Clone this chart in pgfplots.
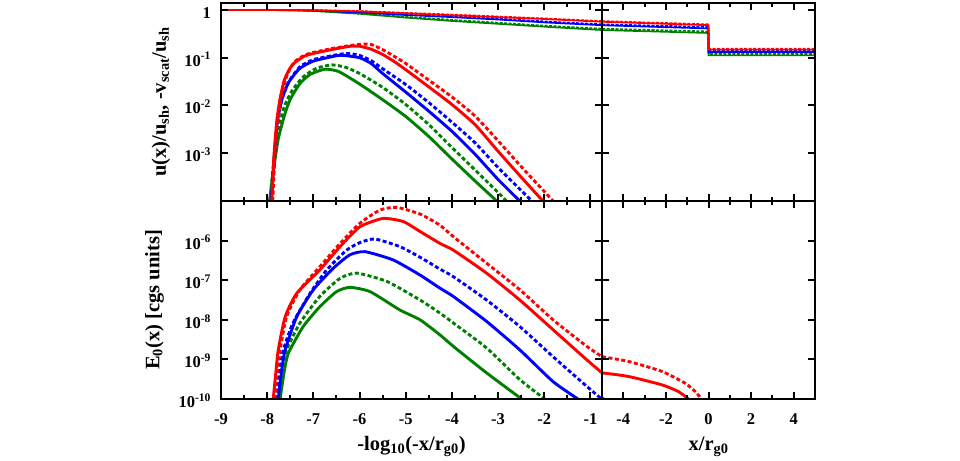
\documentclass[border=0pt]{standalone}
\usepackage{fontspec}
\setmainfont{Liberation Serif}
\usepackage{pgfplots}
\pgfplotsset{compat=1.18}
\definecolor{cr}{RGB}{255,0,0}
\definecolor{cb}{RGB}{0,0,255}
\definecolor{cg}{RGB}{0,128,0}
\newcommand{\lblfont}{\fontsize{20.5}{24}\selectfont\bfseries}
\pgfplotsset{
 every axis/.append style={
  scale only axis, anchor=south west, axis on top=true,
  axis line style={line width=2.4pt},
  every tick/.style={black, line width=2pt},
  major tick length=7pt, minor tick length=4pt,
  tick align=inside, xtick pos=both, ytick pos=both,
  yminorticks=false,
  ticklabel style={font=\fontsize{16.5}{18}\selectfont\bfseries},
  xticklabel style={anchor=base, yshift=-25pt},
  yticklabel style={anchor=base east, xshift=-6.5pt, yshift=-8.5pt},
  every axis x label/.style={at={(axis description cs:0.5,0)}, anchor=base, yshift=-51pt, font=\lblfont},
 },
}
\tikzset{
 uS/.style={line width=1.7pt},
 uD/.style={line width=1.7pt, dash pattern=on 3pt off 1.5pt},
 vS/.style={line width=2.9pt, smooth, tension=0.35},
 vD/.style={line width=2.9pt, dash pattern=on 4pt off 2.5pt, smooth, tension=0.35},
}
\begin{document}
\begin{tikzpicture}
\path[use as bounding box] (0,0) rectangle (960pt,460pt);
% ---------------- top left
\begin{axis}[at={(221pt,259pt)}, width=381pt, height=198pt,
  xmin=-9, xmax=-0.75, xtick={-9,-8,-7,-6,-5,-4,-3,-2,-1},
  minor xtick={-8.5,-7.5,-6.5,-5.5,-4.5,-3.5,-2.5,-1.5}, xticklabels={},
  ymode=log, ymin=1e-4, ymax=1.4, ytick={0.001,0.01,0.1,1},
  yticklabels={10\textsuperscript{-3},10\textsuperscript{-2},10\textsuperscript{-1},1},
  ylabel={u(x)/u\textsubscript{sh}, -v\textsubscript{scat}/u\textsubscript{sh}},
  every axis y label/.style={at={(axis description cs:-0.145,0.5)}, rotate=90, anchor=base, font=\lblfont}]
\addplot[cg, uS] coordinates {(-9,1.0)(-8,0.995)(-7.5,0.989)(-7,0.955)(-6,0.832)(-5,0.692)(-4,0.589)(-3,0.513)(-2,0.447)(-0.75,0.380)};
\addplot[cg, uD] coordinates {(-9,1.0)(-8,0.997)(-7.5,0.99)(-7,0.96)(-6,0.85)(-5,0.72)(-4,0.62)(-3,0.54)(-2,0.47)(-0.75,0.405)};
\addplot[cb, uS] coordinates {(-9,1.0)(-8,0.995)(-7,0.977)(-6,0.891)(-5,0.785)(-4,0.708)(-3,0.631)(-2,0.55)(-0.75,0.479)};
\addplot[cb, uD] coordinates {(-9,1.0)(-8,0.997)(-7,0.985)(-6,0.91)(-5,0.81)(-4,0.735)(-3,0.66)(-2,0.575)(-0.75,0.50)};
\addplot[cr, uS] coordinates {(-9,1.0)(-8,0.997)(-7,0.99)(-6,0.933)(-5,0.851)(-4,0.776)(-3,0.708)(-2,0.646)(-0.75,0.566)};
\addplot[cr, uD] coordinates {(-9,1.0)(-8,0.998)(-7,0.995)(-6,0.95)(-5,0.87)(-4,0.80)(-3,0.73)(-2,0.665)(-0.75,0.585)};
\addplot[cg, vS] coordinates {(-7.95,1e-4)(-7.87,4.0e-4)(-7.76,2.0e-3)(-7.62,6.5e-3)(-7.50,0.0135)(-7.29,0.0288)(-7.07,0.0448)(-6.75,0.0575)(-6.45,0.0513)(-6.00,0.0282)(-5.50,0.0132)(-5.00,5.89e-3)(-4.50,2.24e-3)(-4.00,7.59e-4)(-3.50,2.63e-4)(-3.03,1e-4)};
\addplot[cg, vD] coordinates {(-7.94,1e-4)(-7.86,6.5e-4)(-7.76,3.2e-3)(-7.62,0.0100)(-7.46,0.0205)(-7.22,0.0398)(-6.93,0.0603)(-6.60,0.0708)(-6.30,0.0631)(-6.00,0.0468)(-5.50,0.0240)(-5.00,0.0105)(-4.50,3.98e-3)(-4.00,1.32e-3)(-3.50,4.47e-4)(-3.00,1.51e-4)(-2.82,1e-4)};
\addplot[cb, vS] coordinates {(-7.91,1e-4)(-7.85,8.0e-4)(-7.78,4.5e-3)(-7.68,0.0135)(-7.54,0.0300)(-7.30,0.0590)(-7.00,0.0851)(-6.50,0.110)(-6.35,0.112)(-6.00,0.100)(-5.75,0.0759)(-5.50,0.0468)(-5.00,0.0191)(-4.50,7.59e-3)(-4.00,2.88e-3)(-3.50,9.55e-4)(-3.00,2.82e-4)(-2.53,1e-4)};
\addplot[cb, vD] coordinates {(-7.90,1e-4)(-7.84,9.0e-4)(-7.77,5.0e-3)(-7.67,0.0145)(-7.52,0.0330)(-7.29,0.0646)(-7.00,0.0912)(-6.50,0.115)(-6.25,0.123)(-6.00,0.112)(-5.75,0.0871)(-5.50,0.0589)(-5.00,0.0275)(-4.50,0.0115)(-4.00,4.47e-3)(-3.50,1.66e-3)(-3.00,5.01e-4)(-2.50,1.66e-4)(-2.27,1e-4)};
\addplot[cr, vS] coordinates {(-7.90,1e-4)(-7.85,1e-3)(-7.79,5.01e-3)(-7.72,1.41e-2)(-7.63,3.39e-2)(-7.52,5.75e-2)(-7.40,7.94e-2)(-7.20,0.107)(-7.00,0.123)(-6.50,0.155)(-6.20,0.174)(-6.00,0.174)(-5.75,0.151)(-5.50,0.117)(-5.25,0.0832)(-5.00,0.0562)(-4.50,0.0245)(-4.00,0.0105)(-3.50,3.98e-3)(-3.00,1.10e-3)(-2.50,3.16e-4)(-2.03,1e-4)};
\addplot[cr, vD] coordinates {(-7.88,1e-4)(-7.83,1e-3)(-7.77,5.01e-3)(-7.69,1.51e-2)(-7.60,3.55e-2)(-7.50,6.03e-2)(-7.40,8.32e-2)(-7.20,0.112)(-7.00,0.129)(-6.50,0.162)(-6.00,0.191)(-5.75,0.189)(-5.50,0.148)(-5.25,0.107)(-5.00,0.0759)(-4.50,0.0339)(-4.00,0.0151)(-3.50,6.03e-3)(-3.00,1.82e-3)(-2.50,5.25e-4)(-2.00,1.58e-4)(-1.81,1e-4)};
\end{axis}
% ---------------- top right
\begin{axis}[at={(602pt,259pt)}, width=213pt, height=198pt,
  xmin=-5, xmax=5, xtick={-4,-2,0,2,4}, minor xtick={-3,-1,1,3}, xticklabels={},
  ymode=log, ymin=1e-4, ymax=1.4, ytick={0.001,0.01,0.1,1}, yticklabels={}]
\addplot[cg, uS] coordinates {(-5,0.38)(0,0.33)(0,0.112)(5,0.112)};
\addplot[cg, uD] coordinates {(-5,0.405)(0,0.355)(0,0.12)(5,0.12)};
\addplot[cb, uS] coordinates {(-5,0.479)(0,0.41)(0,0.132)(5,0.132)};
\addplot[cb, uD] coordinates {(-5,0.50)(0,0.44)(0,0.138)(5,0.138)};
\addplot[cr, uS] coordinates {(-5,0.566)(0,0.48)(0,0.148)(5,0.148)};
\addplot[cr, uD] coordinates {(-5,0.585)(0,0.50)(0,0.155)(5,0.155)};
\end{axis}
% ---------------- bottom left
\begin{axis}[at={(221pt,61pt)}, width=381pt, height=198pt,
  xmin=-9, xmax=-0.75, xtick={-9,-8,-7,-6,-5,-4,-3,-2,-1},
  minor xtick={-8.5,-7.5,-6.5,-5.5,-4.5,-3.5,-2.5,-1.5},
  xticklabels={-9,-8,-7,-6,-5,-4,-3,-2,-1},
  ymode=log, ymin=1e-10, ymax=1e-5, ytick={1e-10,1e-9,1e-8,1e-7,1e-6},
  yticklabels={10\textsuperscript{-10},10\textsuperscript{-9},10\textsuperscript{-8},10\textsuperscript{-7},10\textsuperscript{-6}},
  xlabel={-log\textsubscript{10}(-x/r\textsubscript{g0})},
  ylabel={E\textsubscript{0}(x) [cgs units]},
  every axis y label/.style={at={(axis description cs:-0.162,0.5)}, rotate=90, anchor=base, font=\lblfont}]
\addplot[cg, vS] coordinates {(-7.72,1e-10)(-7.63,5.01e-10)(-7.54,1.45e-9)(-7.22,6.76e-9)(-6.86,2.14e-8)(-6.50,5.13e-8)(-6.21,6.61e-8)(-5.77,5.13e-8)(-5.13,1.78e-8)(-4.69,1e-8)(-4.26,4.17e-9)(-3.97,2.14e-9)(-3.25,4.57e-10)(-2.49,1e-10)};
\addplot[cg, vD] coordinates {(-7.76,1e-10)(-7.68,5.01e-10)(-7.58,1.74e-9)(-7.29,8.32e-9)(-6.86,3.89e-8)(-6.42,1.12e-7)(-6.06,1.51e-7)(-5.41,9.33e-8)(-4.69,3.16e-8)(-4.26,1.48e-8)(-3.97,8.32e-9)(-3.25,1.95e-9)(-2.53,3.09e-10)(-1.99,1e-10)};
\addplot[cb, vS] coordinates {(-7.76,1e-10)(-7.69,5.01e-10)(-7.61,1.74e-9)(-7.36,1.20e-8)(-7.00,5.75e-8)(-6.57,2.00e-7)(-6.21,4.37e-7)(-5.88,5.25e-7)(-5.27,3.24e-7)(-4.69,1.35e-7)(-4.26,6.31e-8)(-3.97,3.89e-8)(-3.25,9.12e-9)(-2.53,1.74e-9)(-1.81,2.75e-10)(-1.27,1e-10)};
\addplot[cb, vD] coordinates {(-7.79,1e-10)(-7.73,5.01e-10)(-7.65,1.74e-9)(-7.44,8.32e-9)(-7.07,4.68e-8)(-6.71,1.82e-7)(-6.28,5.75e-7)(-5.99,8.91e-7)(-5.67,1.10e-6)(-5.13,7.08e-7)(-4.69,3.80e-7)(-4.26,1.91e-7)(-3.97,1.23e-7)(-3.25,3.16e-8)(-2.53,6.76e-9)(-1.81,1.17e-9)(-1.08,2.09e-10)(-0.76,1e-10)};
\addplot[cr, vS] coordinates {(-7.87,1e-10)(-7.81,5.01e-10)(-7.76,1.74e-9)(-7.61,1.20e-8)(-7.36,4.68e-8)(-6.86,1.82e-7)(-6.42,7.08e-7)(-5.99,2.24e-6)(-5.49,3.63e-6)(-5.05,3.02e-6)(-4.69,1.70e-6)(-4.26,8.51e-7)(-3.97,5.75e-7)(-3.25,1.51e-7)(-2.53,3.16e-8)(-1.81,5.62e-9)(-1.08,9.77e-10)(-0.75,4.57e-10)};
\addplot[cr, vD] coordinates {(-7.83,1e-10)(-7.78,5.01e-10)(-7.72,1.74e-9)(-7.58,1.20e-8)(-7.29,5.75e-8)(-6.86,2.19e-7)(-6.42,8.51e-7)(-5.99,2.75e-6)(-5.56,5.89e-6)(-5.20,6.92e-6)(-4.69,4.68e-6)(-4.26,2.45e-6)(-3.97,1.26e-6)(-3.25,2.69e-7)(-2.53,5.75e-8)(-1.81,1e-8)(-1.08,2.14e-9)(-0.75,1.17e-9)};
\end{axis}
% ---------------- bottom right
\begin{axis}[at={(602pt,61pt)}, width=213pt, height=198pt,
  xmin=-5, xmax=5, xtick={-4,-2,0,2,4}, minor xtick={-3,-1,1,3},
  xticklabels={-4,-2,0,2,4},
  ymode=log, ymin=1e-10, ymax=1e-5, ytick={1e-10,1e-9,1e-8,1e-7,1e-6}, yticklabels={},
  xlabel={x/r\textsubscript{g0}}]
\addplot[cb, vD] coordinates {(-5,1.03e-10)(-4.9,1e-10)};
\addplot[cr, vS] coordinates {(-5,4.57e-10)(-3.77,3.72e-10)(-2.20,2.29e-10)(-1.42,1.55e-10)(-0.94,1e-10)};
\addplot[cr, vD] coordinates {(-5,1.17e-9)(-3.77,8.91e-10)(-2.20,5.01e-10)(-1.10,2.51e-10)(-0.63,1.55e-10)(-0.32,1e-10)};
\end{axis}
\end{tikzpicture}
\end{document}
